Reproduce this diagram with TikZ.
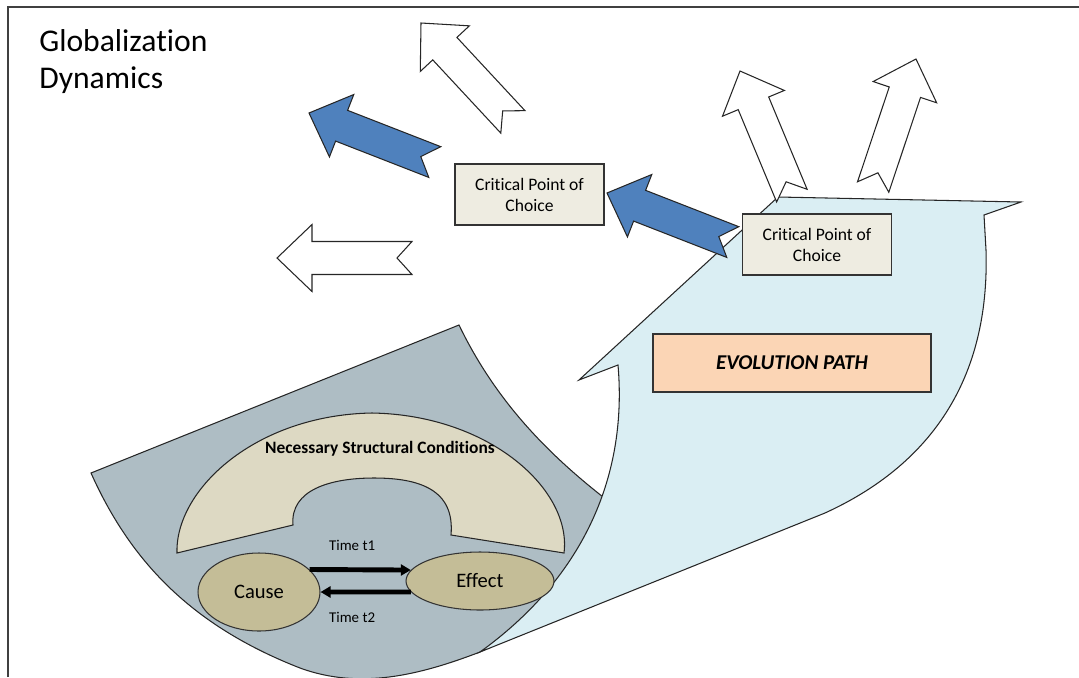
\documentclass[tikz,border=0pt]{standalone}
\usepackage{fontspec}
\setmainfont{Carlito}[Ligatures=NoCommon]
\usetikzlibrary{arrows.meta,shapes.geometric}
\definecolor{pathgrey}{RGB}{174,189,196}
\definecolor{pathblue}{RGB}{218,238,243}
\definecolor{choiceblue}{RGB}{79,129,189}
\definecolor{condtan}{RGB}{221,217,195}
\definecolor{causetan}{RGB}{196,189,151}
\definecolor{evopeach}{RGB}{251,213,181}
\definecolor{boxcream}{RGB}{238,236,225}
\tikzset{every node/.style={inner sep=0pt, text=black}}
\tikzset{choice/.style={draw=black!80, line width=0.8pt, fill=boxcream, minimum width=2.98cm, minimum height=1.22cm, align=center, font=\fontsize{10}{12}\selectfont}}
\tikzset{event/.style={ellipse, draw=black!80, line width=0.6pt, fill=causetan, font=\fontsize{11.7}{14}\selectfont}}
\tikzset{timearrow/.style={line width=2.8pt, -{Triangle[length=0.2cm, width=0.22cm]}}}
\tikzset{shapeline/.style={draw=black!85, line width=0.6pt}}
\tikzset{whitearrow/.style={shapeline, fill=white}}
\tikzset{bluearrow/.style={shapeline, fill=choiceblue}}
\tikzset{blockarrow/.pic={\path[#1] (0,0) -- (-35,33.5) -- (-35,16.5) -- (-135,16.5) -- (-120,0) -- (-135,-16.5) -- (-35,-16.5) -- (-35,-33.5) -- cycle;}}

\begin{document}
\begin{tikzpicture}[x=0.02cm, y=-0.02cm]
  \useasboundingbox (0,0) rectangle (1079,677);
  \clip (0,0) rectangle (1079,677);

  \path[shapeline, fill=pathgrey] (459,325) -- (91,473) .. controls (130,560) and (190,625) .. (300,668) .. controls (360,690) and (420,675) .. (480,652) -- (650,560) -- (620,510) .. controls (560,465) and (500,410) .. (459,325) -- cycle;
  \path[shapeline, fill=pathblue] (480,652) -- (825,513) .. controls (930,465) and (990,380) .. (986,250) -- (984,215) -- (1021,202) -- (778,197) -- (579,380) -- (618,365) .. controls (628,480) and (580,580) .. (480,652) -- cycle;
  \path[shapeline, fill=condtan] (177,553) .. controls (175,490) and (255,415) .. (372,413) .. controls (490,415) and (572,490) .. (564,553) -- (451,535) .. controls (455,490) and (420,478) .. (374,478) .. controls (330,478) and (290,490) .. (293,525) -- cycle;

  \node (NSC) at (380,449) [font=\fontsize{9.9}{12}\selectfont\bfseries] {Necessary Structural Conditions};
  \node (Cause) at (259,592) [event, minimum width=2.44cm, minimum height=1.56cm] {Cause};
  \node (Effect) at (480,581) [event, minimum width=2.96cm, minimum height=1.16cm] {Effect};

  \path (Cause.24) edge[timearrow] node[above=0.33cm, pos=0.42, font=\fontsize{8.5}{10}\selectfont] (T1) {Time t1} (Effect.171);
  \path (Effect.189) edge[timearrow] node[below=0.35cm, pos=0.65, font=\fontsize{8.5}{10}\selectfont] (T2) {Time t2} (Cause.east);

  \node (Evo) at (792,363) [draw=black!80, line width=0.8pt, fill=evopeach, minimum width=5.56cm, minimum height=1.16cm, font=\fontsize{12}{14}\selectfont\bfseries\itshape] {EVOLUTION PATH};

  \pic[rotate=132.9] at (421,23) {blockarrow=whitearrow};
  \pic[rotate=180] at (277,258) {blockarrow=whitearrow};
  \pic[rotate=112.6] at (740,71) {blockarrow=whitearrow};
  \pic[rotate=71.5] at (916,59) {blockarrow=whitearrow};
  \pic[rotate=158.7] at (309,113) {blockarrow=bluearrow};
  \pic[rotate=158.7] at (607,193) {blockarrow=bluearrow};

  \node (CP1) at (529.5,194.5) [choice] {Critical Point of\\Choice};
  \node (CP2) at (817,244.5) [choice] {Critical Point of\\Choice};

  \node (Title) at (39,29) [anchor=north west, align=left, font=\fontsize{18}{21.3}\selectfont] {Globalization\\Dynamics};

  \draw[black!75, line width=1.2pt] (8,677) -- (8,7) -- (1079,7);
\end{tikzpicture}
\end{document}
